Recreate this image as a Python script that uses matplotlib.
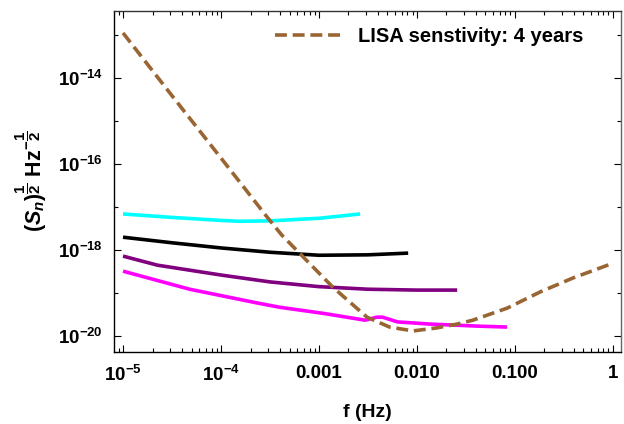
import matplotlib
matplotlib.use("Agg")
import matplotlib.pyplot as plt
import numpy as np
from matplotlib.ticker import FixedLocator, NullFormatter, LogLocator

plt.rcParams['font.family'] = ['Liberation Sans', 'DejaVu Sans']
plt.rcParams['font.weight'] = 'bold'
plt.rcParams['mathtext.fontset'] = 'custom'
plt.rcParams['mathtext.rm'] = 'Liberation Sans:bold'
plt.rcParams['mathtext.bf'] = 'Liberation Sans:bold'
plt.rcParams['mathtext.it'] = 'Liberation Sans:italic:bold'
plt.rcParams['mathtext.sf'] = 'Liberation Sans:bold'

# ---- data (log10 values) ----
lisa_logf = [-5.0, -4.5, -4.0, -3.53, -3.38, -2.86, -2.51, -2.28, -2.04, -1.80, -1.59, -1.43, -1.08, -0.74, -0.41, -0.03, 0.0]
lisa_logS = [-12.95, -14.41, -15.86, -17.23, -17.65, -18.86, -19.56, -19.79, -19.88, -19.81, -19.72, -19.63, -19.35, -18.97, -18.65, -18.33, -18.28]

cyan_logf = [-5.0, -4.5, -4.0, -3.81, -3.5, -3.0, -2.58]
cyan_logS = [-17.16, -17.24, -17.31, -17.33, -17.32, -17.26, -17.16]

black_logf = [-5.0, -4.5, -4.0, -3.5, -3.0, -2.5, -2.09]
black_logS = [-17.70, -17.83, -17.95, -18.05, -18.12, -18.11, -18.07]

purple_logf = [-5.0, -4.65, -4.0, -3.5, -3.0, -2.5, -2.0, -1.59]
purple_logS = [-18.14, -18.35, -18.58, -18.74, -18.85, -18.91, -18.93, -18.93]

magenta_logf = [-5.0, -4.32, -3.63, -3.40, -2.96, -2.53, -2.41, -2.35, -2.20, -1.87, -1.36, -1.08]
magenta_logS = [-18.49, -18.91, -19.23, -19.33, -19.47, -19.63, -19.56, -19.56, -19.67, -19.72, -19.77, -19.79]

xtick_vals = [1e-5, 1e-4, 1e-3, 1e-2, 1e-1, 1]
xtick_labels = [r'$\mathbf{10^{-5}}$', r'$\mathbf{10^{-4}}$', '0.001', '0.010', '0.100', '1']
ytick_vals = [1e-20, 1e-18, 1e-16, 1e-14]
ytick_labels = [r'$\mathbf{10^{-20}}$', r'$\mathbf{10^{-18}}$', r'$\mathbf{10^{-16}}$', r'$\mathbf{10^{-14}}$']

legend_label = 'LISA senstivity: 4 years'

# ---- figure ----
fig = plt.figure(figsize=(6.24, 4.24), dpi=100)
ax = fig.add_axes([0.1827, 0.1698, 0.9952 - 0.1827, 0.974 - 0.1698])

def p(lf, ls):
    return 10 ** np.array(lf), 10 ** np.array(ls)

lw = 2.6
ax.plot(*p(cyan_logf, cyan_logS), color='#00FFFF', lw=lw, solid_capstyle='butt')
ax.plot(*p(black_logf, black_logS), color='black', lw=lw, solid_capstyle='butt')
ax.plot(*p(purple_logf, purple_logS), color='#800080', lw=lw, solid_capstyle='butt')
ax.plot(*p(magenta_logf, magenta_logS), color='#FF00FF', lw=lw, solid_capstyle='butt')
ax.plot(*p(lisa_logf, lisa_logS), color='#996633', lw=lw, ls=(0, (3.3, 1.6)),
        label=legend_label)

ax.set_xscale('log')
ax.set_yscale('log')
ax.set_xlim(10 ** -5.092, 10 ** 0.082)
ax.set_ylim(10 ** -20.37, 10 ** -12.44)

ax.xaxis.set_major_locator(FixedLocator(xtick_vals))
ax.set_xticklabels(xtick_labels)
ax.xaxis.set_minor_locator(LogLocator(base=10, subs=np.arange(2, 10)))
ax.xaxis.set_minor_formatter(NullFormatter())

ax.yaxis.set_major_locator(FixedLocator(ytick_vals))
ax.set_yticklabels(ytick_labels)
ax.yaxis.set_minor_locator(FixedLocator([1e-21, 1e-19, 1e-17, 1e-15, 1e-13]))
ax.yaxis.set_minor_formatter(NullFormatter())

ax.tick_params(which='both', direction='in', top=True, right=True, width=0.8,
               labelsize=13.5, color='black')
ax.tick_params(which='major', length=5)
ax.tick_params(which='minor', length=3)
ax.tick_params(axis='x', which='major', pad=9)
ax.tick_params(axis='y', which='major', pad=8)
for lab in ax.get_xticklabels() + ax.get_yticklabels():
    lab.set_fontweight('bold')

for s in ax.spines.values():
    s.set_linewidth(1.0)
ax.spines['right'].set_color('#666666')
ax.spines['top'].set_color('#333333')

ax.set_xlabel('f (Hz)', fontsize=14, fontweight='bold', labelpad=14)
ax.set_ylabel(r'$(S_{\mathit{n}})^{\dfrac{1}{2}}\ \mathrm{Hz}^{-\dfrac{1}{2}}$', fontsize=15.5, labelpad=6)

leg = ax.legend(loc='upper right', frameon=False, fontsize=14.5, handlelength=3.4,
                handletextpad=0.7, borderaxespad=0.4, bbox_to_anchor=(0.957, 1.0))
for t in leg.get_texts():
    t.set_fontweight('bold')

fig.savefig('out.png', dpi=100)
